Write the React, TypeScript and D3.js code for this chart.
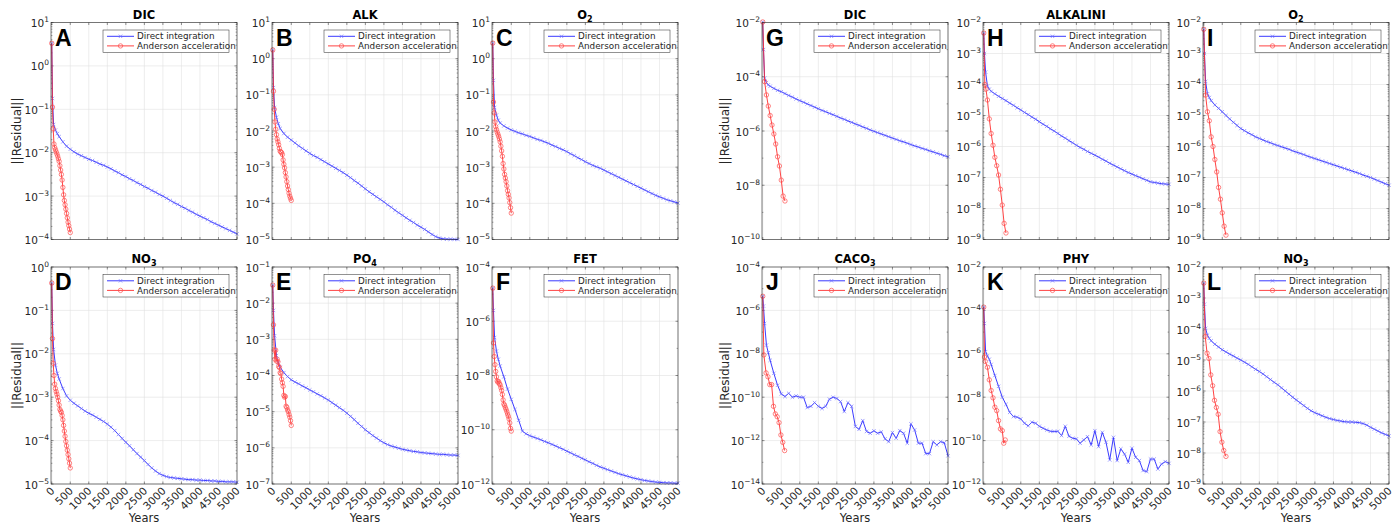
import React from "react";
import * as d3 from "d3";

// ---------- DATA (values are log10 of ||Residual||) ----------
const BLUE_YEARS = [0, 20, 50, 100, 150, 200, 300, 400, 500, 600, 700, 800, 900, 1000,
  1100, 1200, 1300, 1400, 1500, 1600, 1700, 1800, 1900, 2000,
  2100, 2200, 2300, 2400, 2500, 2600, 2700, 2800, 2900, 3000,
  3100, 3200, 3300, 3400, 3500, 3600, 3700, 3800, 3900, 4000,
  4100, 4200, 4300, 4400, 4500, 4600, 4700, 4800, 4900, 5000];

const RED_YEARS_AF = [0, 20, 40, 60, 80, 100, 120, 140, 160, 180, 200, 220, 240, 260, 280,
  300, 320, 340, 360, 380, 400, 420, 440, 460, 480, 500];

const A_DIRECT = [0.52, -0.75, -1.35, -1.48, -1.56, -1.63, -1.75, -1.85, -1.92, -1.98, -2.03, -2.07, -2.11, -2.15,
  -2.18, -2.22, -2.26, -2.29, -2.33, -2.37, -2.42, -2.46, -2.51, -2.55,
  -2.6, -2.64, -2.69, -2.73, -2.78, -2.82, -2.87, -2.91, -2.96, -3.0,
  -3.05, -3.1, -3.15, -3.19, -3.24, -3.28, -3.33, -3.37, -3.42, -3.46,
  -3.5, -3.54, -3.59, -3.63, -3.67, -3.71, -3.75, -3.79, -3.83, -3.87];
const A_ANDERSON = [0.52, -0.95, -1.45, -1.8, -1.88, -1.93, -1.98, -2.03, -2.08, -2.14, -2.2, -2.3, -2.4,
  -2.5, -2.63, -2.8, -2.97, -3.1, -3.2, -3.3, -3.4, -3.5, -3.6, -3.68, -3.76, -3.84];

const B_DIRECT = [0.24, -0.8, -1.35, -1.62, -1.8, -1.93, -2.07, -2.17, -2.25, -2.33, -2.41, -2.48, -2.55, -2.62,
  -2.68, -2.73, -2.79, -2.85, -2.91, -2.97, -3.03, -3.09, -3.15, -3.22,
  -3.29, -3.37, -3.44, -3.52, -3.6, -3.68, -3.75, -3.82, -3.89, -3.96,
  -4.04, -4.11, -4.19, -4.26, -4.33, -4.4, -4.47, -4.53, -4.6, -4.66,
  -4.72, -4.79, -4.86, -4.92, -4.96, -4.98, -4.99, -4.99, -4.995, -5.0];
const B_ANDERSON = [0.24, -0.9, -1.4, -1.75, -1.95, -2.1, -2.22, -2.3, -2.38, -2.48, -2.56, -2.58, -2.6,
  -2.65, -2.8, -2.92, -3.02, -3.15, -3.27, -3.4, -3.52, -3.62, -3.72, -3.8, -3.86, -3.92];

const C_DIRECT = [0.43, -0.6, -1.35, -1.56, -1.7, -1.78, -1.86, -1.92, -1.97, -2.01, -2.05, -2.08, -2.12, -2.15,
  -2.19, -2.23, -2.26, -2.3, -2.34, -2.39, -2.43, -2.48, -2.52, -2.57,
  -2.63, -2.68, -2.74, -2.79, -2.85, -2.9, -2.95, -2.99, -3.03, -3.08,
  -3.13, -3.18, -3.23, -3.28, -3.33, -3.38, -3.43, -3.48, -3.53, -3.58,
  -3.63, -3.68, -3.73, -3.78, -3.82, -3.86, -3.9, -3.93, -3.96, -3.99];
const C_ANDERSON = [0.43, -1.2, -1.5, -1.75, -1.88, -1.96, -2.03, -2.09, -2.15, -2.22, -2.3, -2.42, -2.55,
  -2.7, -2.9, -3.05, -3.2, -3.3, -3.4, -3.52, -3.65, -3.75, -3.85, -3.98, -4.12, -4.27];

const D_DIRECT = [-0.37, -1.3, -1.9, -2.26, -2.45, -2.58, -2.8, -2.97, -3.07, -3.14, -3.2, -3.26, -3.32, -3.37,
  -3.41, -3.46, -3.51, -3.56, -3.62, -3.69, -3.77, -3.86, -3.95, -4.04,
  -4.12, -4.21, -4.3, -4.38, -4.46, -4.55, -4.63, -4.7, -4.76, -4.8,
  -4.83, -4.85, -4.86, -4.87, -4.88, -4.89, -4.9, -4.9, -4.91, -4.91,
  -4.92, -4.92, -4.93, -4.93, -4.94, -4.94, -4.95, -4.95, -4.95, -4.96];
const D_ANDERSON = [-0.37, -1.65, -2.22, -2.5, -2.7, -2.8, -2.87, -2.93, -3.0, -3.08, -3.18, -3.28, -3.32,
  -3.35, -3.42, -3.52, -3.65, -3.78, -3.9, -4.02, -4.12, -4.22, -4.32, -4.42, -4.52, -4.63];

const E_DIRECT = [-1.5, -2.2, -2.9, -3.45, -3.65, -3.77, -3.92, -4.03, -4.12, -4.18, -4.23, -4.29, -4.34, -4.4,
  -4.45, -4.51, -4.56, -4.62, -4.68, -4.75, -4.82, -4.89, -4.96, -5.04,
  -5.13, -5.22, -5.32, -5.41, -5.5, -5.58, -5.66, -5.73, -5.8, -5.86,
  -5.91, -5.95, -5.98, -6.01, -6.04, -6.06, -6.08, -6.1, -6.11, -6.13,
  -6.14, -6.15, -6.16, -6.17, -6.18, -6.18, -6.19, -6.2, -6.2, -6.21];
const E_ANDERSON = [-1.5, -2.6, -3.3, -3.55, -3.3, -3.6, -3.55, -3.62, -3.75, -3.78, -3.92, -3.95, -4.1,
  -4.2, -4.3, -4.55, -4.6, -4.58, -4.85, -4.88, -4.95, -5.0, -5.08, -5.15, -5.25, -5.38];

const F_DIRECT = [-4.78, -5.6, -6.6, -7.1, -7.4, -7.65, -8.05, -8.5, -8.88, -9.25, -9.65, -10.05, -10.15, -10.22,
  -10.27, -10.32, -10.37, -10.43, -10.48, -10.54, -10.6, -10.66, -10.72, -10.79,
  -10.85, -10.92, -10.98, -11.05, -11.11, -11.18, -11.24, -11.31, -11.37, -11.42,
  -11.47, -11.52, -11.57, -11.62, -11.66, -11.7, -11.74, -11.78, -11.81, -11.84,
  -11.87, -11.89, -11.91, -11.93, -11.94, -11.95, -11.96, -11.96, -11.97, -11.97];
const F_ANDERSON = [-4.78, -6.8, -7.3, -7.6, -7.85, -8.05, -8.2, -8.25, -8.22, -8.3, -8.35, -8.45, -8.55,
  -8.7, -8.9, -9.05, -9.1, -9.18, -9.25, -9.33, -9.42, -9.5, -9.6, -9.75, -9.95, -10.05];

const G_DIRECT = [-1.98, -3.0, -4.05, -4.22, -4.3, -4.35, -4.43, -4.5, -4.55, -4.62, -4.69, -4.75, -4.82, -4.88,
  -4.94, -5.0, -5.06, -5.12, -5.18, -5.24, -5.29, -5.35, -5.4, -5.46,
  -5.52, -5.57, -5.63, -5.68, -5.74, -5.79, -5.85, -5.9, -5.96, -6.01,
  -6.06, -6.11, -6.16, -6.21, -6.26, -6.31, -6.36, -6.4, -6.45, -6.5,
  -6.55, -6.59, -6.64, -6.68, -6.73, -6.77, -6.82, -6.86, -6.91, -6.95];
const G_ANDERSON_YEARS = [0, 50, 100, 150, 200, 250, 300, 350, 400, 450, 500, 550, 600];
const G_ANDERSON = [-1.98, -4.18, -4.67, -5.08, -5.43, -5.78, -6.11, -6.48, -6.95, -7.29, -7.81, -8.4, -8.58];

const H_DIRECT = [-2.34, -3.0, -3.6, -4.05, -4.15, -4.22, -4.3, -4.38, -4.45, -4.52, -4.6, -4.67, -4.75, -4.82,
  -4.9, -4.97, -5.05, -5.12, -5.2, -5.28, -5.35, -5.43, -5.5, -5.58,
  -5.66, -5.73, -5.81, -5.88, -5.96, -6.03, -6.09, -6.16, -6.22, -6.28,
  -6.34, -6.41, -6.47, -6.54, -6.6, -6.66, -6.72, -6.78, -6.84, -6.89,
  -6.94, -6.99, -7.04, -7.09, -7.14, -7.16, -7.18, -7.2, -7.21, -7.22];
const H_ANDERSON_YEARS = [0, 30, 60, 100, 150, 200, 250, 300, 350, 400, 450, 500, 550, 600];
const H_ANDERSON = [-2.34, -4.0, -4.15, -4.5, -5.11, -5.58, -5.96, -6.35, -6.62, -6.92, -7.38, -7.89, -8.48, -8.79];

const I_DIRECT = [-2.22, -3.0, -3.9, -4.3, -4.42, -4.52, -4.66, -4.77, -4.88, -5.0, -5.11, -5.22, -5.32, -5.42,
  -5.49, -5.56, -5.62, -5.69, -5.74, -5.79, -5.84, -5.88, -5.93, -5.97,
  -6.01, -6.05, -6.09, -6.14, -6.18, -6.22, -6.26, -6.31, -6.35, -6.39,
  -6.43, -6.47, -6.51, -6.55, -6.59, -6.63, -6.67, -6.71, -6.75, -6.79,
  -6.83, -6.87, -6.92, -6.96, -7.0, -7.05, -7.1, -7.15, -7.2, -7.25];
const I_ANDERSON_YEARS = [0, 50, 100, 150, 200, 250, 300, 350, 400, 450, 500, 550, 600];
const I_ANDERSON = [-2.22, -4.34, -4.88, -5.17, -5.69, -6.0, -6.42, -6.82, -7.32, -7.7, -8.14, -8.57, -8.86];

const J_DIRECT = [-5.35, -5.8, -6.6, -7.6, -7.95, -8.3, -8.9, -9.45, -9.85, -9.97, -9.82, -10.0, -9.94, -10.0,
  -10.0, -10.48, -10.42, -10.25, -10.42, -10.52, -10.42, -10.09, -10.0, -10.06,
  -10.2, -10.66, -10.25, -10.42, -11.35, -11.48, -11.08, -11.58, -11.66, -11.55,
  -11.66, -11.6, -11.92, -12.05, -11.63, -11.89, -11.54, -11.66, -12.12, -11.23,
  -11.51, -12.12, -12.12, -12.6, -12.6, -12.05, -12.2, -12.05, -12.1, -12.7];
const J_ANDERSON_YEARS = [0, 30, 90, 140, 190, 240, 290, 340, 390, 440, 490, 540, 590];
const J_ANDERSON = [-5.35, -8.05, -8.88, -9.06, -9.42, -9.42, -10.42, -10.77, -10.9, -11.17, -11.74, -12.08, -12.46];

const K_DIRECT = [-3.85, -4.6, -5.9, -6.1, -6.25, -6.49, -7.0, -7.5, -8.0, -8.33, -8.7, -8.89, -8.92, -9.0,
  -9.2, -9.32, -9.15, -9.2, -9.34, -9.43, -9.51, -9.57, -9.58, -9.57,
  -9.77, -9.34, -9.8, -9.89, -9.92, -10.12, -9.97, -9.82, -10.2, -9.54,
  -10.28, -9.62, -10.08, -10.89, -9.85, -10.92, -10.38, -10.62, -11.0, -10.35,
  -10.77, -10.92, -11.38, -11.43, -10.85, -10.85, -11.31, -11.08, -10.97, -11.05];
const K_ANDERSON_YEARS = [0, 20, 40, 100, 150, 200, 250, 300, 350, 400, 450, 500, 540, 580];
const K_ANDERSON = [-3.85, -6.15, -6.35, -6.62, -7.2, -7.69, -8.03, -8.46, -8.62, -9.08, -9.46, -9.54, -10.12, -9.97];

const L_DIRECT = [-2.52, -3.2, -3.98, -4.2, -4.3, -4.38, -4.49, -4.58, -4.67, -4.74, -4.81, -4.87, -4.94, -5.0,
  -5.07, -5.14, -5.22, -5.3, -5.37, -5.45, -5.54, -5.63, -5.72, -5.8,
  -5.9, -6.0, -6.1, -6.2, -6.29, -6.38, -6.47, -6.56, -6.64, -6.7,
  -6.75, -6.8, -6.85, -6.89, -6.92, -6.95, -6.97, -6.99, -7.0, -7.0,
  -7.01, -7.02, -7.05, -7.1, -7.17, -7.23, -7.29, -7.35, -7.4, -7.45];
const L_ANDERSON_YEARS = [0, 40, 90, 140, 190, 240, 290, 340, 390, 440, 490, 540, 600];
const L_ANDERSON = [-2.52, -4.24, -4.78, -4.95, -5.48, -5.83, -6.3, -6.53, -6.75, -7.31, -7.65, -7.92, -8.11];

const X_TICKS = [0, 500, 1000, 1500, 2000, 2500, 3000, 3500, 4000, 4500, 5000];
const LEGEND_LABELS = ["Direct integration", "Anderson acceleration"];

// ---------- PANEL DEFINITIONS ----------
type Panel = {
  id: string; title: string; sub?: string; col: number; row: number;
  yMin: number; yMax: number; yStep: number;
  direct: number[]; andersonYears: number[]; anderson: number[];
};

const PANELS: Panel[] = [
  { id: "A", title: "DIC", col: 0, row: 0, yMin: -4, yMax: 1, yStep: 1, direct: A_DIRECT, andersonYears: RED_YEARS_AF, anderson: A_ANDERSON },
  { id: "B", title: "ALK", col: 1, row: 0, yMin: -5, yMax: 1, yStep: 1, direct: B_DIRECT, andersonYears: RED_YEARS_AF, anderson: B_ANDERSON },
  { id: "C", title: "O", sub: "2", col: 2, row: 0, yMin: -5, yMax: 1, yStep: 1, direct: C_DIRECT, andersonYears: RED_YEARS_AF, anderson: C_ANDERSON },
  { id: "D", title: "NO", sub: "3", col: 0, row: 1, yMin: -5, yMax: 0, yStep: 1, direct: D_DIRECT, andersonYears: RED_YEARS_AF, anderson: D_ANDERSON },
  { id: "E", title: "PO", sub: "4", col: 1, row: 1, yMin: -7, yMax: -1, yStep: 1, direct: E_DIRECT, andersonYears: RED_YEARS_AF, anderson: E_ANDERSON },
  { id: "F", title: "FET", col: 2, row: 1, yMin: -12, yMax: -4, yStep: 2, direct: F_DIRECT, andersonYears: RED_YEARS_AF, anderson: F_ANDERSON },
  { id: "G", title: "DIC", col: 3, row: 0, yMin: -10, yMax: -2, yStep: 2, direct: G_DIRECT, andersonYears: G_ANDERSON_YEARS, anderson: G_ANDERSON },
  { id: "H", title: "ALKALINI", col: 4, row: 0, yMin: -9, yMax: -2, yStep: 1, direct: H_DIRECT, andersonYears: H_ANDERSON_YEARS, anderson: H_ANDERSON },
  { id: "I", title: "O", sub: "2", col: 5, row: 0, yMin: -9, yMax: -2, yStep: 1, direct: I_DIRECT, andersonYears: I_ANDERSON_YEARS, anderson: I_ANDERSON },
  { id: "J", title: "CACO", sub: "3", col: 3, row: 1, yMin: -14, yMax: -4, yStep: 2, direct: J_DIRECT, andersonYears: J_ANDERSON_YEARS, anderson: J_ANDERSON },
  { id: "K", title: "PHY", col: 4, row: 1, yMin: -12, yMax: -2, yStep: 2, direct: K_DIRECT, andersonYears: K_ANDERSON_YEARS, anderson: K_ANDERSON },
  { id: "L", title: "NO", sub: "3", col: 5, row: 1, yMin: -9, yMax: -2, yStep: 1, direct: L_DIRECT, andersonYears: L_ANDERSON_YEARS, anderson: L_ANDERSON },
];

// ---------- LAYOUT / STYLE ----------
const W = 1396, H = 526;
const PLOT_W = 186, PLOT_H = 217;
const COL_LEFT = [51, 272, 492, 762, 983, 1203];
const ROW_TOP = [22.5, 267];
const FONT = "'DejaVu Sans', 'Liberation Sans', sans-serif";
const INK = "#262626";
const GRID = "#e0e0e0";
const BLUE = "#2424ff";
const BLUE_MK = "#6e6eff";
const RED = "#ff2e2e";
const RED_MK = "#ff4f4f";

function XMark({ cx, cy, s = 1.7 }: { cx: number; cy: number; s?: number }) {
  return (
    <path d={`M${cx - s},${cy - s}L${cx + s},${cy + s}M${cx - s},${cy + s}L${cx + s},${cy - s}`}
      stroke={BLUE_MK} strokeWidth={0.65} fill="none" />
  );
}

function PanelView({ p }: { p: Panel }) {
  const left = COL_LEFT[p.col];
  const top = ROW_TOP[p.row];
  const right = left + PLOT_W;
  const bottom = top + PLOT_H;
  const x = d3.scaleLinear().domain([-20, 5000]).range([left, right]);
  const y = d3.scaleLog().domain([Math.pow(10, p.yMin), Math.pow(10, p.yMax)]).range([bottom, top]);

  const majors: number[] = [];
  for (let e = p.yMin; e <= p.yMax; e += p.yStep) majors.push(e);
  const minors: number[] = [];
  for (let e = p.yMin; e < p.yMax; e++) {
    if (p.yStep === 1) {
      for (let k = 2; k <= 9; k++) minors.push(Math.pow(10, e) * k);
    } else if ((e - p.yMin) % 2 === 1) {
      minors.push(Math.pow(10, e));
    }
  }

  const bluePts: [number, number][] = BLUE_YEARS.map((t, i) => [t, Math.pow(10, p.direct[i])]);
  const redPts: [number, number][] = p.andersonYears.map((t, i) => [t, Math.pow(10, p.anderson[i])]);
  const line = d3.line<[number, number]>().x((d) => x(d[0])).y((d) => y(d[1]));

  const tl = 2.5;
  const lw = 126, lh = 22.5;
  const lx = right - 8 - lw, ly = top + 7.5;
  const isLeftCol = p.col === 0 || p.col === 3;
  const isBottom = p.row === 1;
  const cx = (left + right) / 2;

  return (
    <g>
      {/* grid */}
      {X_TICKS.map((t) => (
        <line key={"gx" + t} x1={x(t)} x2={x(t)} y1={top} y2={bottom} stroke={GRID} strokeWidth={0.6} />
      ))}
      {majors.map((e) => (
        <line key={"gy" + e} x1={left} x2={right} y1={y(Math.pow(10, e))} y2={y(Math.pow(10, e))} stroke={GRID} strokeWidth={0.6} />
      ))}
      {/* ticks */}
      {X_TICKS.map((t) => (
        <g key={"tx" + t}>
          <line x1={x(t)} x2={x(t)} y1={bottom} y2={bottom - tl} stroke={INK} strokeWidth={0.5} />
          <line x1={x(t)} x2={x(t)} y1={top} y2={top + tl} stroke={INK} strokeWidth={0.5} />
        </g>
      ))}
      {majors.map((e) => (
        <g key={"ty" + e}>
          <line x1={left} x2={left + tl} y1={y(Math.pow(10, e))} y2={y(Math.pow(10, e))} stroke={INK} strokeWidth={0.5} />
          <line x1={right} x2={right - tl} y1={y(Math.pow(10, e))} y2={y(Math.pow(10, e))} stroke={INK} strokeWidth={0.5} />
        </g>
      ))}
      {minors.map((v, i) => (
        <g key={"tm" + i}>
          <line x1={left} x2={left + 1.4} y1={y(v)} y2={y(v)} stroke={INK} strokeWidth={0.4} />
          <line x1={right} x2={right - 1.4} y1={y(v)} y2={y(v)} stroke={INK} strokeWidth={0.4} />
        </g>
      ))}
      {/* series */}
      <path d={line(bluePts) || ""} fill="none" stroke={BLUE} strokeWidth={0.9} />
      {bluePts.map((d, i) => (
        <XMark key={"bm" + i} cx={x(d[0])} cy={y(d[1])} />
      ))}
      <path d={line(redPts) || ""} fill="none" stroke={RED} strokeWidth={0.9} />
      {redPts.map((d, i) => (
        <circle key={"rm" + i} cx={x(d[0])} cy={y(d[1])} r={2.2} fill="none" stroke={RED_MK} strokeWidth={0.7} />
      ))}
      {/* box */}
      <rect x={left} y={top} width={PLOT_W} height={PLOT_H} fill="none" stroke={INK} strokeWidth={0.6} />
      {/* y tick labels */}
      {majors.map((e) => (
        <text key={"yl" + e} x={left - 2} y={y(Math.pow(10, e)) + 4.5} textAnchor="end" fontFamily={FONT} fontSize={10.5} fill={INK}>
          10<tspan dy={-5} fontSize={7.5}>{String(e).replace("-", "\u2212")}</tspan>
        </text>
      ))}
      {/* x tick labels */}
      {isBottom && X_TICKS.map((t) => (
        <text key={"xl" + t} transform={`translate(${x(t) + 3.5},${bottom + 7.5}) rotate(-45)`} textAnchor="end"
          fontFamily={FONT} fontSize={10.5} fill={INK}>{t}</text>
      ))}
      {isBottom && (
        <text x={cx} y={522} textAnchor="middle" fontFamily={FONT} fontSize={11.5} fill={INK}>Years</text>
      )}
      {isLeftCol && (
        <text transform={`translate(${left - (p.col === 0 ? 30 : 33)},${(top + bottom) / 2}) rotate(-90)`} textAnchor="middle"
          fontFamily={FONT} fontSize={12} fill={INK}>||Residual||</text>
      )}
      {/* title */}
      <text x={cx} y={top - 4} textAnchor="middle" fontFamily={FONT} fontSize={11.5} fontWeight="bold" fill="#000">
        {p.title}
        {p.sub && <tspan dy={3} fontSize={8}>{p.sub}</tspan>}
      </text>
      {/* panel letter */}
      <text x={left + 4} y={top + 23} fontFamily="'Liberation Sans', Arial, sans-serif" fontSize={23} fontWeight="bold" fill="#000">
        {p.id}
      </text>
      {/* legend */}
      <rect x={lx} y={ly} width={lw} height={lh} fill="#fff" stroke={INK} strokeWidth={0.5} />
      <line x1={lx + 4} x2={lx + 31} y1={ly + 6.3} y2={ly + 6.3} stroke={BLUE} strokeWidth={0.9} />
      <XMark cx={lx + 17.5} cy={ly + 6.3} />
      <text x={lx + 34} y={ly + 9.4} fontFamily={FONT} fontSize={8.8} fill={INK}>{LEGEND_LABELS[0]}</text>
      <line x1={lx + 4} x2={lx + 31} y1={ly + 15.9} y2={ly + 15.9} stroke={RED} strokeWidth={0.9} />
      <circle cx={lx + 17.5} cy={ly + 15.9} r={2.2} fill="none" stroke={RED_MK} strokeWidth={0.7} />
      <text x={lx + 34} y={ly + 19} fontFamily={FONT} fontSize={8.8} fill={INK}>{LEGEND_LABELS[1]}</text>
    </g>
  );
}

export default function App() {
  return (
    <svg width={W} height={H} viewBox={`0 0 ${W} ${H}`}
      style={{ position: "absolute", left: 0, top: 0, background: "#fff" }}>
      <rect x={0} y={0} width={W} height={H} fill="#fff" />
      {PANELS.map((p) => (
        <PanelView key={p.id} p={p} />
      ))}
    </svg>
  );
}
